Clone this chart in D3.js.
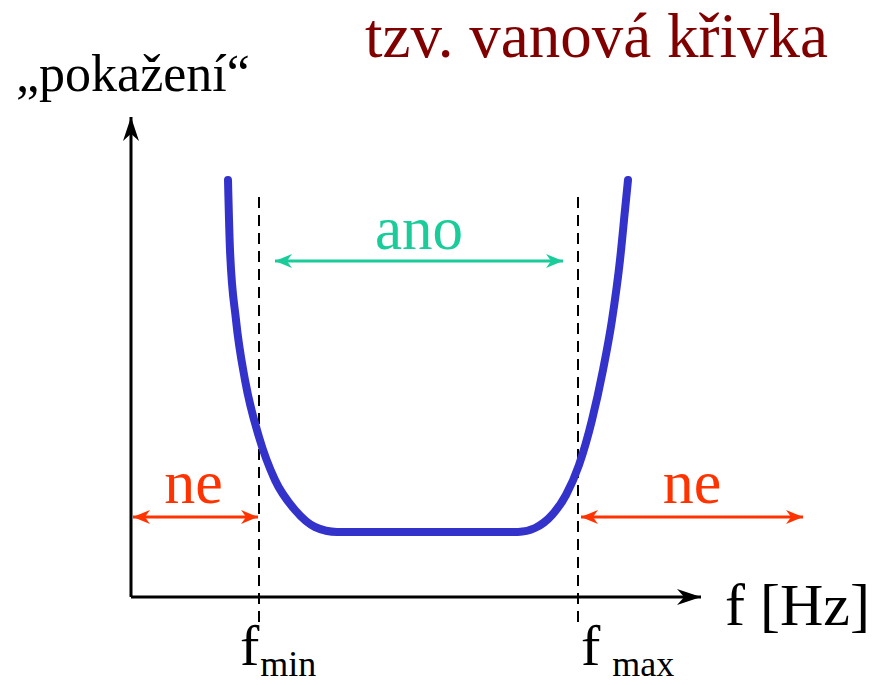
<!DOCTYPE html>
<html>
<head>
<meta charset="utf-8">
<script src="https://cdn.jsdelivr.net/npm/d3@7"></script>
<style>
  body { margin: 0; background: #fff; }
  svg text { font-family: "Liberation Serif", "Times New Roman", serif; }
</style>
</head>
<body>
<div id="chart"></div>
<script>
// bathtub curve, arbitrary units (1 unit ~ 10 px)
var curveX = [9.7, 9.9, 10.5, 11.4, 12.8, 14.4, 16.4, 18.4, 20.6, 38.7, 40.4, 42.1, 43.5, 44.8, 46.1, 47.2, 48.1, 48.9, 49.4, 49.7];
var curveY = [41.7, 34.7, 27.7, 21.7, 16.0, 11.7, 8.7, 7.0, 6.5, 6.5, 6.9, 8.2, 10.2, 13.2, 17.7, 22.7, 27.7, 33.7, 38.7, 41.7];

var fLimits = [12.8, 44.7];          // f_min, f_max
var fLabels = ["min", "max"];
var anoRange = [14.4, 43.2];
var neLeft = [0.2, 12.7];
var neRight = [45.0, 67.2];
var bandY = [33.6, 8.0];              // ano arrow, ne arrows

var W = 877, H = 685;
var serif = "'Liberation Serif', 'Times New Roman', serif";

var svg = d3.select("#chart")
    .append("svg")
    .attr("width", W)
    .attr("height", H)
    .attr("font-family", serif);

var x = d3.scaleLinear().domain([0, 57]).range([131, 701]);
var y = d3.scaleLinear().domain([0, 48]).range([597, 117]);

// arrow markers
function addMarker(id, color, len, half) {
    svg.append("defs").append("marker")
        .attr("id", id)
        .attr("viewBox", "0 0 " + len + " " + (half * 2))
        .attr("refX", len)
        .attr("refY", half)
        .attr("markerWidth", len)
        .attr("markerHeight", half * 2)
        .attr("markerUnits", "userSpaceOnUse")
        .attr("orient", "auto-start-reverse")
        .append("path")
        .attr("d", "M0,0 L" + len + "," + half + " L0," + (half * 2) + " L" + (len * 0.3) + "," + half + " Z")
        .attr("fill", color);
}
addMarker("arrBlack", "#000", 24, 8);
addMarker("arrGreen", "#19cc99", 17, 7);
addMarker("arrRed", "#ff3300", 17, 7);

// axes
svg.append("line")
    .attr("x1", x(0)).attr("y1", y(0))
    .attr("x2", x(0)).attr("y2", y(48))
    .attr("stroke", "#000").attr("stroke-width", 3)
    .attr("marker-end", "url(#arrBlack)");
svg.append("line")
    .attr("x1", x(0)).attr("y1", y(0))
    .attr("x2", x(57)).attr("y2", y(0))
    .attr("stroke", "#000").attr("stroke-width", 3)
    .attr("marker-end", "url(#arrBlack)");

// dashed limits
svg.selectAll(".lim")
    .data(fLimits)
    .enter().append("line")
    .attr("class", "lim")
    .attr("x1", function (d) { return x(d); })
    .attr("x2", function (d) { return x(d); })
    .attr("y1", y(40))
    .attr("y2", y(-3))
    .attr("stroke", "#000")
    .attr("stroke-width", 2)
    .attr("stroke-dasharray", "11,7");

// the curve
var pts = curveX.map(function (d, i) { return [d, curveY[i]]; });
svg.append("path")
    .datum(pts)
    .attr("fill", "none")
    .attr("stroke", "#3333cc")
    .attr("stroke-width", 8)
    .attr("stroke-linecap", "round")
    .attr("d", d3.line()
        .x(function (d) { return x(d[0]); })
        .y(function (d) { return y(d[1]); })
        .curve(d3.curveMonotoneX));

// ano / ne arrows
function dblArrow(r, yy, color, marker) {
    svg.append("line")
        .attr("x1", x(r[0])).attr("x2", x(r[1]))
        .attr("y1", y(yy)).attr("y2", y(yy))
        .attr("stroke", color).attr("stroke-width", 3)
        .attr("marker-start", "url(#" + marker + ")")
        .attr("marker-end", "url(#" + marker + ")");
}
dblArrow(anoRange, bandY[0], "#19cc99", "arrGreen");
dblArrow(neLeft, bandY[1], "#ff3300", "arrRed");
dblArrow(neRight, bandY[1], "#ff3300", "arrRed");

svg.append("text")
    .attr("x", x((anoRange[0] + anoRange[1]) / 2)).attr("y", 249)
    .attr("text-anchor", "middle")
    .attr("font-family", serif)
    .style("font-size", "61px").style("fill", "#19cc99")
    .text("ano");
svg.append("text")
    .attr("x", x((neLeft[0] + neLeft[1]) / 2) - 2).attr("y", 503)
    .attr("text-anchor", "middle")
    .attr("font-family", serif)
    .style("font-size", "62px").style("fill", "#ff3300")
    .text("ne");
svg.append("text")
    .attr("x", x((neRight[0] + neRight[1]) / 2)).attr("y", 503)
    .attr("text-anchor", "middle")
    .attr("font-family", serif)
    .style("font-size", "62px").style("fill", "#ff3300")
    .text("ne");

// labels
svg.append("text")
    .attr("x", 365).attr("y", 57)
    .attr("font-family", serif)
    .style("font-size", "63px").style("fill", "#800000")
    .text("tzv. vanová křivka");

svg.append("text")
    .attr("x", 16).attr("y", 91)
    .attr("font-family", serif)
    .style("font-size", "52px").style("fill", "#000")
    .text("\u201Epokažení\u201C");

svg.append("text")
    .attr("x", 725).attr("y", 625)
    .attr("font-family", serif)
    .style("font-size", "60px").style("fill", "#000")
    .text("f [Hz]");

svg.selectAll(".flab")
    .data(fLimits)
    .enter().append("text")
    .attr("class", "flab")
    .attr("x", function (d, i) { return i == 0 ? x(d) - 19 : x(d) + 3; })
    .attr("y", 665)
    .attr("font-family", serif)
    .style("font-size", "58px").style("fill", "#000")
    .text("f")
    .append("tspan")
    .attr("dx", function (d, i) { return i == 0 ? 1 : 12; })
    .attr("dy", 11)
    .style("font-size", "36px")
    .text(function (d, i) { return fLabels[i]; });
</script>
</body>
</html>
